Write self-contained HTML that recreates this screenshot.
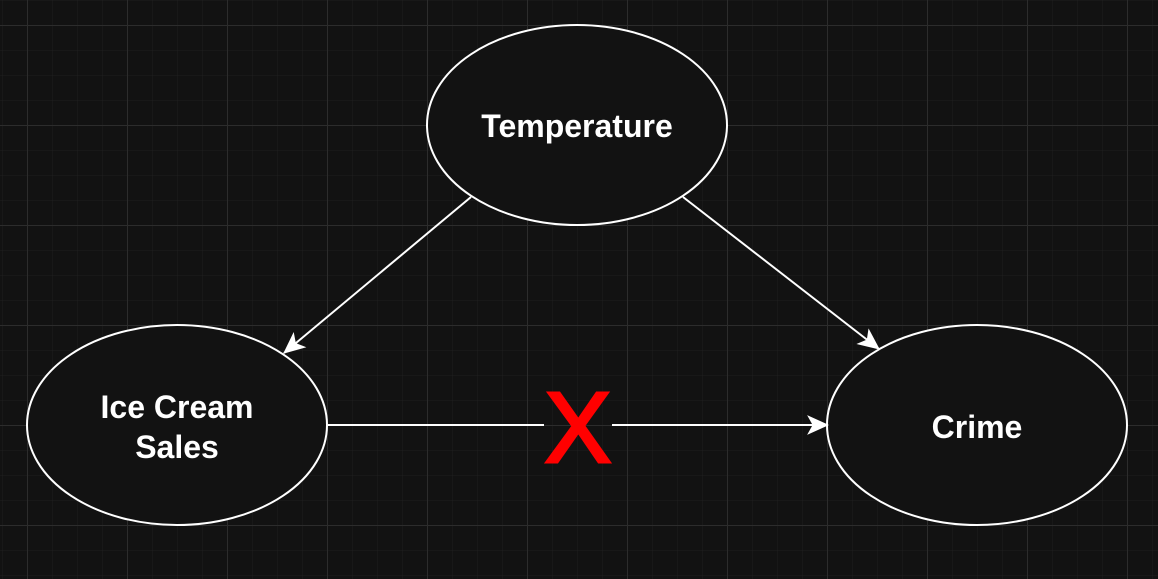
<!DOCTYPE html>
<html><head><style>
html,body{margin:0;padding:0;background:#121212;}
</style></head><body>
<svg width="1158" height="579" xmlns="http://www.w3.org/2000/svg" style="display:block">
<defs>
<pattern id="minor" x="2" y="0" width="25" height="25" patternUnits="userSpaceOnUse">
<path d="M0 0V25M0 0H25" stroke="#1f1f1f" stroke-width="1" fill="none"/>
</pattern>
<pattern id="major" x="27" y="25" width="100" height="100" patternUnits="userSpaceOnUse">
<path d="M0.5 0V100M0 0.5H100" stroke="#2c2c2c" stroke-width="1" fill="none"/>
</pattern>
<marker id="ah" viewBox="0 0 20 20" refX="19" refY="10" markerWidth="22" markerHeight="22" markerUnits="userSpaceOnUse" orient="auto">
<path d="M0 1 L20 10 L0 19 L5 10 Z" fill="#fff"/>
</marker>
</defs>
<rect width="1158" height="579" fill="#121212"/>
<rect width="1158" height="579" fill="url(#minor)"/>
<rect width="1158" height="579" fill="url(#major)"/>
<g stroke="#fff" stroke-width="2" fill="#121212">
<ellipse cx="577" cy="125" rx="150" ry="100"/>
<ellipse cx="177" cy="425" rx="150" ry="100"/>
<ellipse cx="977" cy="425" rx="150" ry="100"/>
</g>
<g stroke="#fff" stroke-width="2" fill="none">
<line x1="471" y1="197" x2="284" y2="353" marker-end="url(#ah)"/>
<line x1="683" y1="197" x2="879" y2="349" marker-end="url(#ah)"/>
<line x1="328" y1="425" x2="544" y2="425"/>
<line x1="612" y1="425" x2="828" y2="425" marker-end="url(#ah)"/>
</g>
<g font-family="Liberation Sans, sans-serif" font-weight="bold" font-size="32" fill="#fff" text-anchor="middle">
<text x="577" y="137">Temperature</text>
<text x="177" y="418">Ice Cream</text>
<text x="177" y="458">Sales</text>
<text x="977" y="438">Crime</text>
</g>
<text x="578" y="462" font-family="Liberation Sans, sans-serif" font-size="100" fill="#ff0000" stroke="#ff0000" stroke-width="3" text-anchor="middle">X</text>
</svg>
</body></html>
